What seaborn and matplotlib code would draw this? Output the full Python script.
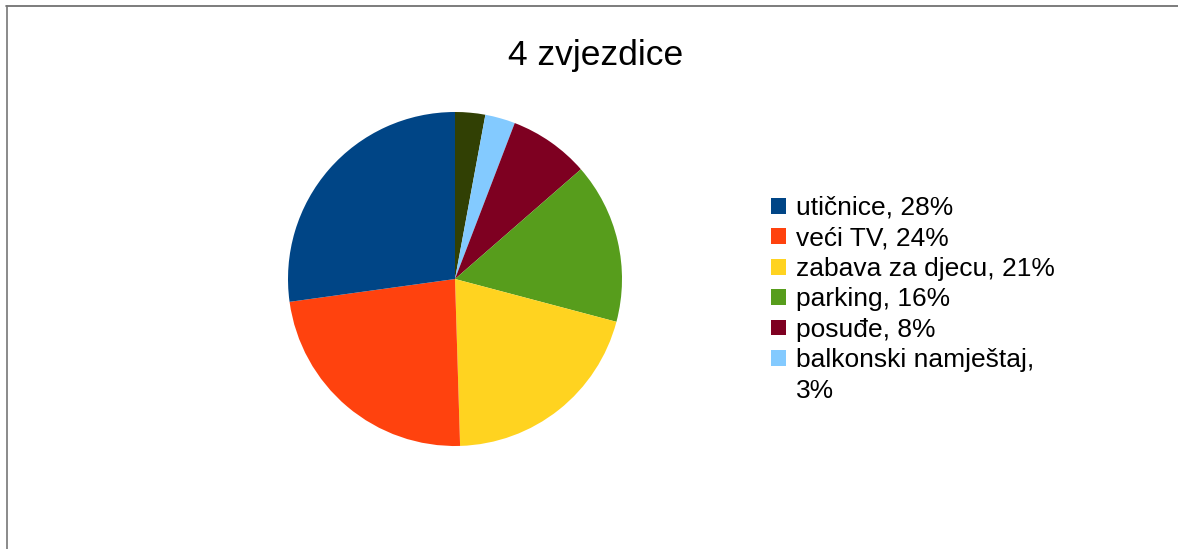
import matplotlib
matplotlib.use("Agg")
import matplotlib.pyplot as plt
import seaborn as sns
from matplotlib.lines import Line2D
from matplotlib.patches import Patch

# Data
title = "4 zvjezdice"
categories = ["utičnice", "veći TV", "zabava za djecu", "parking", "posuđe",
              "balkonski namještaj", "ostalo"]
values = [28, 24, 21, 16, 8, 3, 3]
legend_labels = ["utičnice, 28%", "veći TV, 24%", "zabava za djecu, 21%",
                 "parking, 16%", "posuđe, 8%", "balkonski namještaj,", "3%"]
colors = ["#004586", "#ff420e", "#ffd320", "#579d1c", "#7e0021", "#83caff", "#314004"]

sns.set_theme(style="white")
plt.rcParams['font.family'] = ['Liberation Sans', 'DejaVu Sans']
plt.rcParams['text.color'] = 'black'

W, H, DPI = 1178, 549, 100
fig = plt.figure(figsize=(W / DPI, H / DPI), dpi=DPI)
fig.patch.set_facecolor("white")

cx, cy, r = 455, 279, 167
ax = fig.add_axes([(cx - r) / W, 1 - (cy + r) / H, 2 * r / W, 2 * r / H])

# pie order: clockwise from 12 o'clock: olive, light blue, red, green, yellow, orange, blue
order = [6, 5, 4, 3, 2, 1, 0]
pal = sns.color_palette(colors)
wedges, _ = ax.pie([values[i] for i in order], colors=[pal[i] for i in order],
                   startangle=90, counterclock=False, radius=1.0,
                   wedgeprops=dict(linewidth=0))
ax.set_xlim(-1, 1)
ax.set_ylim(-1, 1)
ax.set_aspect("equal")
ax.axis("off")

wedge_by_cat = {order[k]: w for k, w in enumerate(wedges)}
handles = [wedge_by_cat[i] for i in range(6)]
handles.append(Patch(facecolor="none", edgecolor="none"))

fig.text(596 / W, 1 - 56 / H, title, ha="center", va="center", fontsize=25.5, color="black")

leg = fig.legend(handles, legend_labels, loc="upper left",
                 bbox_to_anchor=(771 / W, 1 - 196 / H), frameon=False,
                 fontsize=19, handlelength=0.55, handleheight=0.55, handletextpad=0.4,
                 labelspacing=0.245, borderpad=0, borderaxespad=0)
for t in leg.get_texts():
    t.set_color("black")

# frame lines (top and left)
fig.add_artist(Line2D([6 / W, 1], [1 - 6 / H, 1 - 6 / H], transform=fig.transFigure,
                      color="#666666", linewidth=1.2))
fig.add_artist(Line2D([6.5 / W, 6.5 / W], [0, 1 - 6 / H], transform=fig.transFigure,
                      color="#777777", linewidth=1.2))

fig.savefig("out.png", dpi=DPI, facecolor="white")
